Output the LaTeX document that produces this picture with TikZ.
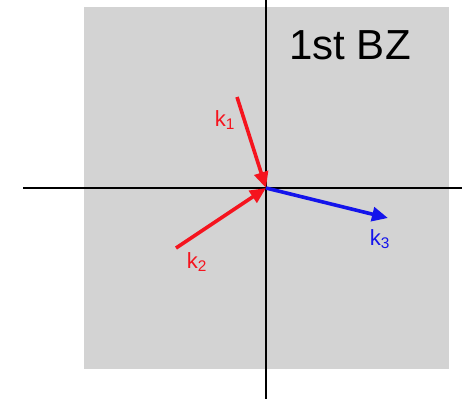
\documentclass[tikz,border=0pt]{standalone}
\usepackage{fontspec}
\setmainfont{Liberation Sans}
\usetikzlibrary{arrows.meta, positioning}
\definecolor{bzgray}{RGB}{211, 211, 211}
\definecolor{kred}{RGB}{245, 20, 30}
\definecolor{kblue}{RGB}{20, 20, 235}

\begin{document}
\begin{tikzpicture}[
  x=1pt, y=-1pt,
  axisline/.style={draw=black, line width=2.4pt},
  wavevec/.style={line width=3.6pt, -{Triangle[length=16pt, width=14pt]}},
  klabel/.style={font=\fontsize{22}{22}\selectfont, inner sep=0pt}
]
  \useasboundingbox (0,0) rectangle (462,399);
  \fill[bzgray] (84,7) rectangle (449,369);

  \coordinate (origin) at (266,188);
  \coordinate (xleft) at (23,188);
  \coordinate (xright) at (462,188);
  \coordinate (ytop) at (266,0);
  \coordinate (ybottom) at (266,399);
  \draw[axisline] (xleft) -- (xright);
  \draw[axisline] (ytop) -- (ybottom);

  \coordinate (konetail) at (237,97);
  \coordinate (ktwotail) at (176,248);
  \coordinate (kthreehead) at (388,218);
  \draw[wavevec, kred] (konetail) -- (origin);
  \draw[wavevec, kred] (ktwotail) -- (origin);
  \draw[wavevec, kblue] (origin) -- (kthreehead);

  \node[klabel, text=kred] (konelabel) at (225,120) {k\textsubscript{1}};
  \node[klabel, text=kred] (ktwolabel) at (197,262) {k\textsubscript{2}};
  \node[klabel, text=kblue] (kthreelabel) at (380,239) {k\textsubscript{3}};
  \node[font=\fontsize{42}{42}\selectfont, inner sep=0pt] (bzlabel) at (350,45) {1st BZ};
\end{tikzpicture}
\end{document}
